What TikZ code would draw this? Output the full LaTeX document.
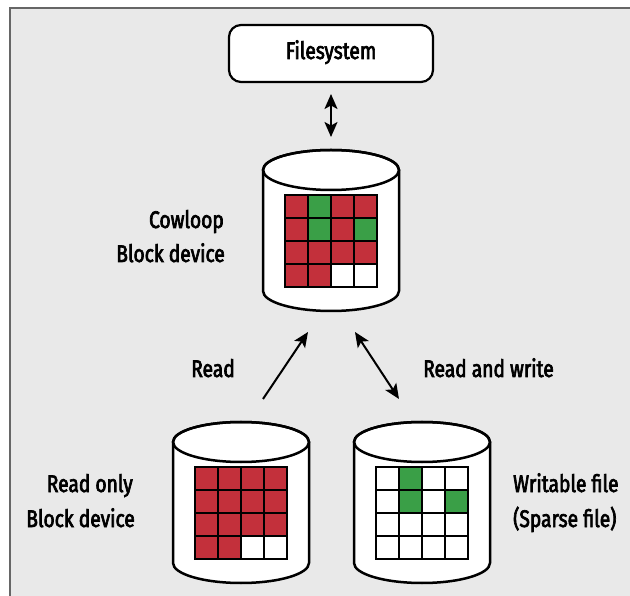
\documentclass[tikz,border=0pt]{standalone}
\usepackage{fontspec}
\setmainfont{Fira Sans}[FakeStretch=0.8,FakeBold=2.8]
\usetikzlibrary{arrows.meta}
\definecolor{panelgray}{HTML}{E9E9E9}
\definecolor{framegray}{HTML}{666666}
\definecolor{cred}{HTML}{C3303B}
\definecolor{cgreen}{HTML}{3A9F47}
\tikzset{
  lbl/.style={font=\fontsize{24}{27}\selectfont, inner sep=0pt},
  cylbody/.style={draw=black, line width=2.5pt, fill=white},
  gridcell/.style={draw=black, line width=2pt},
  onearrow/.style={line width=2pt, -{Stealth[length=15pt,width=13pt,inset=3.5pt]}},
  twoarrow/.style={line width=2pt, {Stealth[length=15pt,width=13pt,inset=3.5pt]}-{Stealth[length=15pt,width=13pt,inset=3.5pt]}},
  fsbox/.style={draw=black, line width=2.2pt, fill=white, rounded corners=12pt, minimum width=204pt, minimum height=57pt, inner sep=0pt},
}
% #1 name, #2 cx, #3 top-ellipse center y
\newcommand\mycyl[3]{%
  \path[cylbody] (#2-68,#3) -- (#2-68,#3+121)
     arc[start angle=180,end angle=0,x radius=68,y radius=20]
     -- (#2+68,#3) arc[start angle=0,end angle=-180,x radius=68,y radius=20] -- cycle;
  \draw[line width=2.5pt] (#2,#3) ellipse[x radius=68,y radius=20];
  \coordinate (#1) at (#2,#3+60);
}
% #1 cx, #2 top y, #3 list of 16 colours
\newcommand\mygrid[3]{%
  \foreach \cc [count=\ii from 0] in {#3} {
    \pgfmathtruncatemacro\rr{int(\ii/4)}
    \pgfmathtruncatemacro\kk{mod(\ii,4)}
    \path[gridcell, fill=\cc] (#1-46+23*\kk,#2+25+23*\rr) rectangle ++(23,23);
  }
}
\begin{document}
\begin{tikzpicture}[x=1pt,y=-1pt]
\useasboundingbox (0,0) rectangle (630,596);
\fill[panelgray] (10,8) rectangle (630,596);
\draw[framegray, line width=2pt] (10,596) -- (10,8) -- (630,8);

\node[fsbox] (fs) at (331,53.5) {};
\node[lbl, anchor=base] (fstext) at (331,59) {Filesystem};

\mycyl{cow}{331}{170}
\mygrid{331}{170}{cred,cgreen,cred,cred, cred,cgreen,cred,cgreen, cred,cred,cred,cred, cred,cred,white,white}
\mycyl{ro}{241}{442}
\mygrid{241}{442}{cred,cred,cred,cred, cred,cred,cred,cred, cred,cred,cred,cred, cred,cred,white,white}
\mycyl{wf}{422}{442}
\mygrid{422}{442}{white,cgreen,white,white, white,cgreen,white,cgreen, white,white,white,white, white,white,white,white}

\coordinate (fsA) at (331,94);
\coordinate (fsB) at (331,137);
\draw[twoarrow] (fsA) -- (fsB);

\coordinate (rdA) at (263,399);
\coordinate (rdB) at (308,332);
\draw[onearrow] (rdA) -- (rdB);

\coordinate (rwA) at (355,332);
\coordinate (rwB) at (399,399);
\draw[twoarrow] (rwA) -- (rwB);

\node[lbl, anchor=base east] (l1) at (224,228) {Cowloop};
\node[lbl, anchor=base east] (l2) at (225,262) {Block device};
\node[lbl, anchor=base] (l3) at (213,377) {Read};
\node[lbl, anchor=base west] (l4) at (423,377) {Read and write};
\node[lbl, anchor=base east] (l5) at (133,492) {Read only};
\node[lbl, anchor=base east] (l6) at (135,527) {Block device};
\node[lbl, anchor=base west] (l7) at (513,492) {Writable file};
\node[lbl, anchor=base west] (l8) at (513,527) {(Sparse file)};
\end{tikzpicture}
\end{document}
